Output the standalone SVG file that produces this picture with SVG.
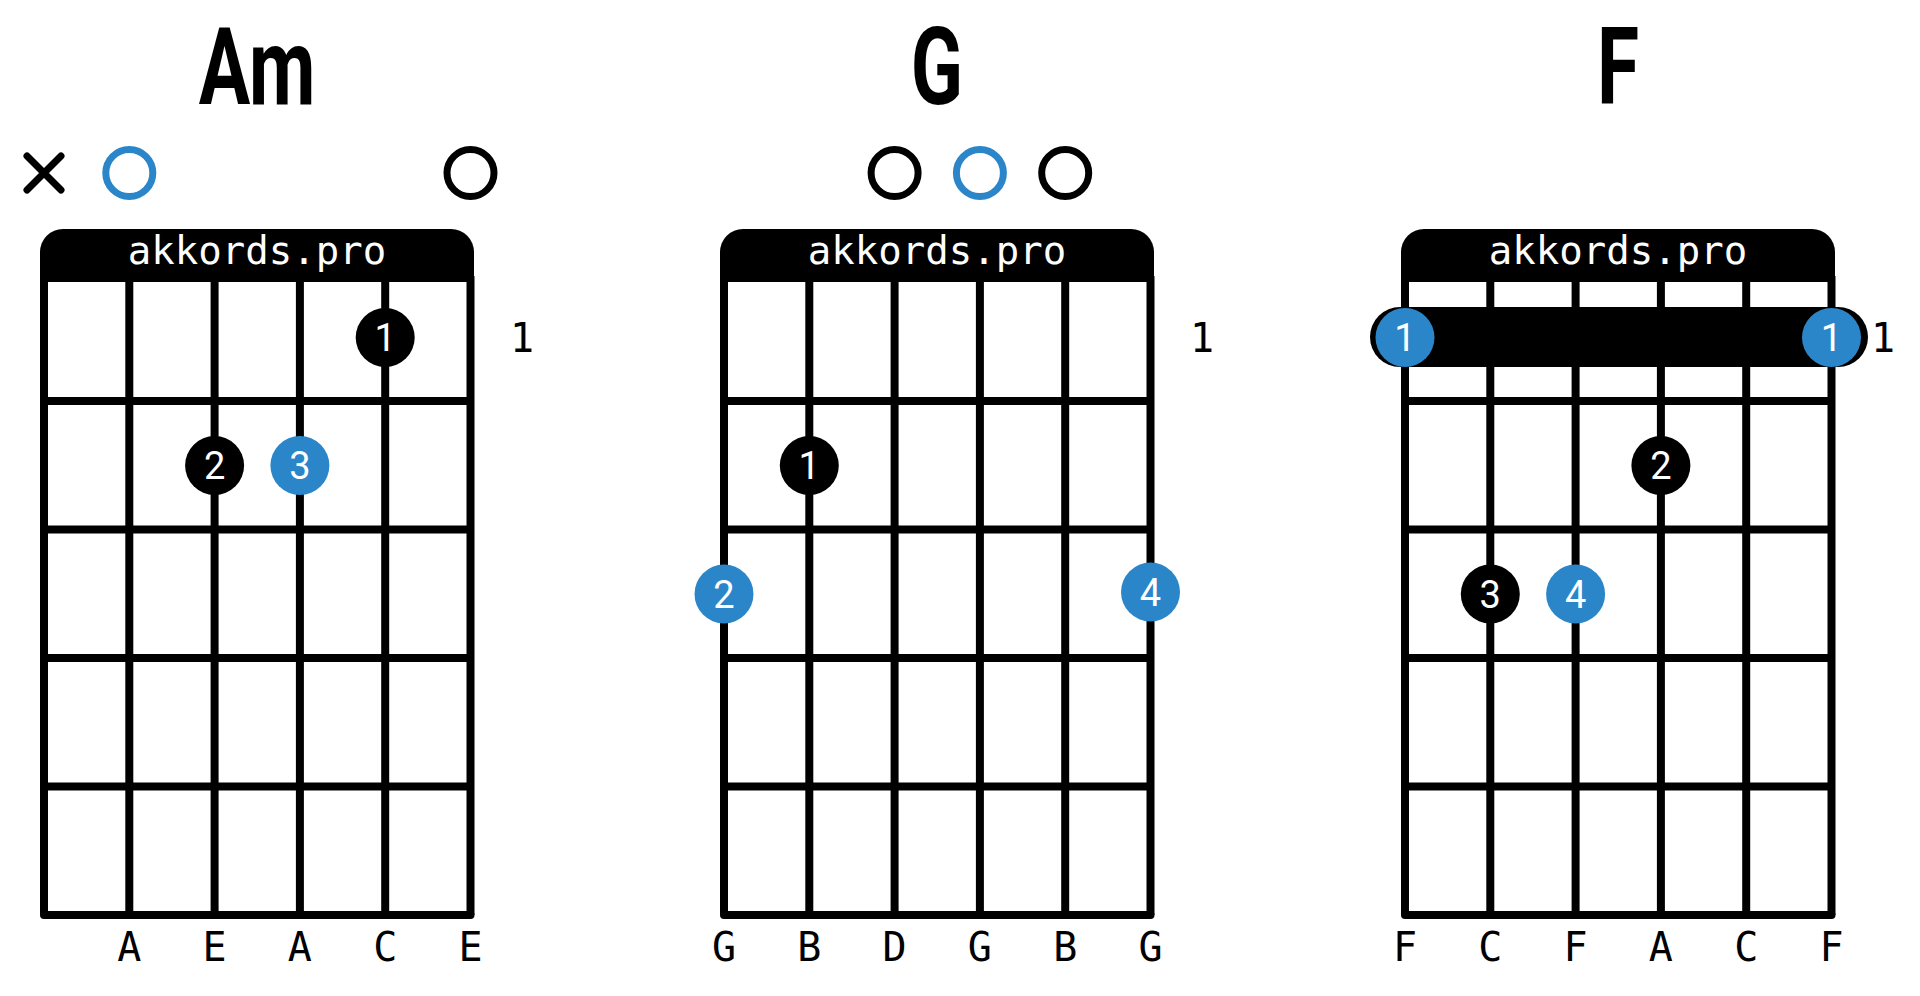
<svg xmlns="http://www.w3.org/2000/svg" xmlns:xlink="http://www.w3.org/1999/xlink" width="1920" height="996" viewBox="0 0 1920 996">
<style>
.title{font-family:Roboto,"Liberation Sans",sans-serif;font-weight:700;font-size:108px;fill:#000;text-anchor:middle}
.brand{font-family:"DejaVu Sans Mono","Liberation Mono",monospace;font-size:39px;fill:#fff;text-anchor:middle}
.lbl{font-family:"DejaVu Sans Mono","Liberation Mono",monospace;font-size:40px;fill:#000;text-anchor:middle}
.num{font-family:Roboto,"Liberation Sans",sans-serif;font-size:38px;font-weight:400;fill:#fff;text-anchor:middle}
.line{stroke:#000;stroke-width:8;fill:none}
.ring{fill:none;stroke-width:7}
.blk{fill:#000}
.blu{fill:#2a86c9}
</style>
<defs>
<g id="grid">
<path d="M40,282 V252 A23,23 0 0 1 63,229 H451 A23,23 0 0 1 474,252 V282 Z" class="blk"/>
<text x="257" y="264" class="brand">akkords.pro</text>
<g class="line">
<line x1="44" y1="276" x2="44" y2="915"/>
<line x1="129.3" y1="276" x2="129.3" y2="915"/>
<line x1="214.6" y1="276" x2="214.6" y2="915"/>
<line x1="299.9" y1="276" x2="299.9" y2="915"/>
<line x1="385.2" y1="276" x2="385.2" y2="915"/>
<line x1="470.5" y1="276" x2="470.5" y2="915"/>
<line x1="44" y1="401" x2="470.5" y2="401"/>
<line x1="44" y1="529.5" x2="470.5" y2="529.5"/>
<line x1="44" y1="658" x2="470.5" y2="658"/>
<line x1="44" y1="786.5" x2="470.5" y2="786.5"/>
<line x1="44" y1="915" x2="470.5" y2="915" stroke-linecap="round"/>
</g>
<text x="522" y="351.5" class="lbl">1</text>
</g>
</defs>
<rect width="1920" height="996" fill="#fff"/>

<g id="chord-Am">
<g transform="translate(257,104) scale(0.71,1)"><text class="title">Am</text></g>
<use xlink:href="#grid"/>
<g id="Am-markers">
<path d="M27,156 L61,190 M61,156 L27,190" stroke="#000" stroke-width="7" stroke-linecap="round"/>
<circle cx="129.3" cy="173" r="23.5" class="ring" stroke="#2a86c9"/>
<circle cx="470.5" cy="173" r="23.5" class="ring" stroke="#000"/>
</g>
<g id="Am-f1"><circle cx="385.2" cy="337.5" r="29.5" class="blk"/><text x="385.2" y="351" class="num">1</text></g>
<g id="Am-f2"><circle cx="214.6" cy="465.5" r="29.5" class="blk"/><text x="214.6" y="479" class="num">2</text></g>
<g id="Am-f3"><circle cx="299.9" cy="465.5" r="29.5" class="blu"/><text x="299.9" y="479" class="num">3</text></g>
<g id="Am-strings">
<text x="129.3" y="961" class="lbl">A</text>
<text x="214.6" y="961" class="lbl">E</text>
<text x="299.9" y="961" class="lbl">A</text>
<text x="385.2" y="961" class="lbl">C</text>
<text x="470.5" y="961" class="lbl">E</text>
</g>
</g>

<g id="chord-G" transform="translate(680,0)">
<g transform="translate(257,104) scale(0.71,1)"><text class="title">G</text></g>
<use xlink:href="#grid"/>
<g id="G-markers">
<circle cx="214.6" cy="173" r="23.5" class="ring" stroke="#000"/>
<circle cx="299.9" cy="173" r="23.5" class="ring" stroke="#2a86c9"/>
<circle cx="385.2" cy="173" r="23.5" class="ring" stroke="#000"/>
</g>
<g id="G-f1"><circle cx="129.3" cy="465.5" r="29.5" class="blk"/><text x="129.3" y="479" class="num">1</text></g>
<g id="G-f2"><circle cx="44" cy="594" r="29.5" class="blu"/><text x="44" y="607.5" class="num">2</text></g>
<g id="G-f4"><circle cx="470.5" cy="592" r="29.5" class="blu"/><text x="470.5" y="605.5" class="num">4</text></g>
<g id="G-strings">
<text x="44" y="961" class="lbl">G</text>
<text x="129.3" y="961" class="lbl">B</text>
<text x="214.6" y="961" class="lbl">D</text>
<text x="299.9" y="961" class="lbl">G</text>
<text x="385.2" y="961" class="lbl">B</text>
<text x="470.5" y="961" class="lbl">G</text>
</g>
</g>

<g id="chord-F" transform="translate(1361,0)">
<g transform="translate(257,104) scale(0.71,1)"><text class="title">F</text></g>
<use xlink:href="#grid"/>
<g id="F-barre">
<rect x="9" y="307" width="498" height="60" rx="30" class="blk"/>
<circle cx="44" cy="337.5" r="29.5" class="blu"/><text x="44" y="351" class="num">1</text>
<circle cx="470.5" cy="337.5" r="29.5" class="blu"/><text x="470.5" y="351" class="num">1</text>
</g>
<g id="F-f2"><circle cx="299.9" cy="465.5" r="29.5" class="blk"/><text x="299.9" y="479" class="num">2</text></g>
<g id="F-f3"><circle cx="129.3" cy="594" r="29.5" class="blk"/><text x="129.3" y="607.5" class="num">3</text></g>
<g id="F-f4"><circle cx="214.6" cy="594" r="29.5" class="blu"/><text x="214.6" y="607.5" class="num">4</text></g>
<g id="F-strings">
<text x="44" y="961" class="lbl">F</text>
<text x="129.3" y="961" class="lbl">C</text>
<text x="214.6" y="961" class="lbl">F</text>
<text x="299.9" y="961" class="lbl">A</text>
<text x="385.2" y="961" class="lbl">C</text>
<text x="470.5" y="961" class="lbl">F</text>
</g>
</g>
</svg>
